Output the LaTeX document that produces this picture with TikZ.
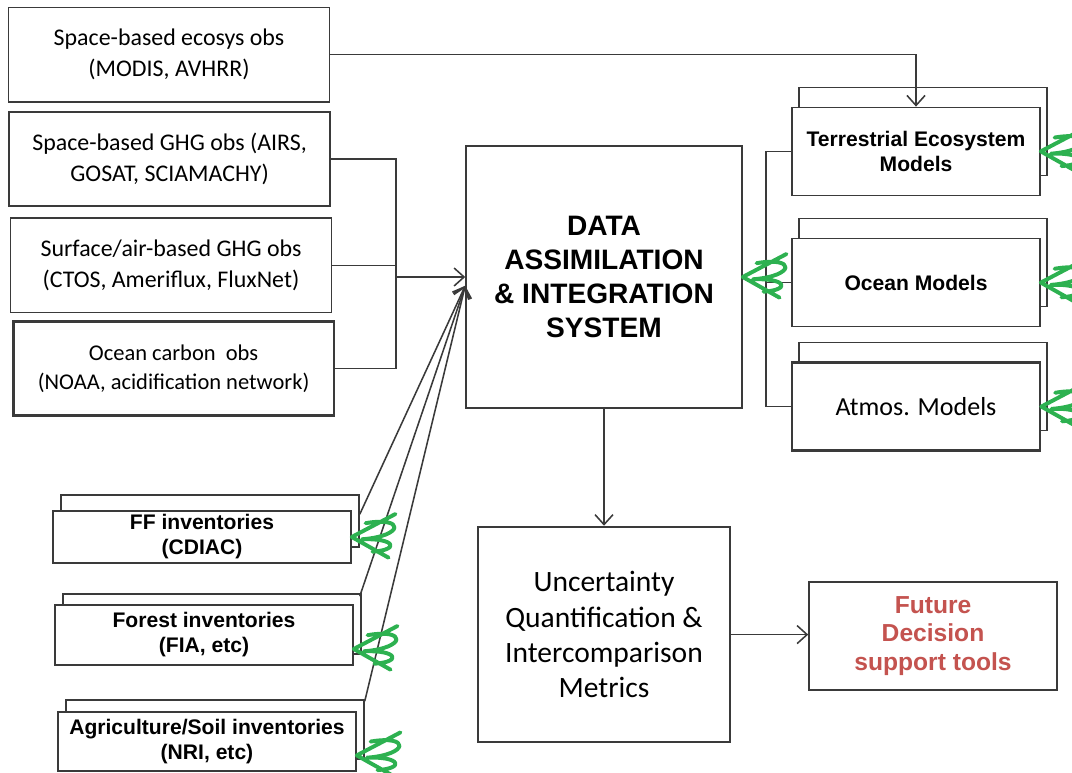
\documentclass[tikz,border=0pt]{standalone}
\usepackage{fontspec}
\setmainfont{Carlito}
\newfontfamily\arialfont{Liberation Sans}
\usetikzlibrary{positioning}
\usetikzlibrary{arrows.meta}
\usetikzlibrary{calc}
\usetikzlibrary{shadows}
\definecolor{lGray}{HTML}{3A3A3A}
\definecolor{mGreen}{HTML}{2DB150}
\definecolor{tRed}{HTML}{C4534F}

\begin{document}
\begin{tikzpicture}[
    box/.style={draw=lGray, line width=1.1pt, fill=white, align=center, inner sep=1pt},
    obs/.style={box, minimum width=8.02cm, minimum height=2.36cm, font=\fontsize{17}{22}\selectfont},
    model/.style={box, minimum width=6.2cm, minimum height=2.2cm,
      font=\arialfont\bfseries\fontsize{15}{18}\selectfont,
      copy shadow={shadow xshift=0.175cm, shadow yshift=0.5cm, line width=1.1pt}},
    inv/.style={box, minimum width=7.45cm, font=\arialfont\bfseries\fontsize{15}{17.8}\selectfont,
      copy shadow={shadow xshift=0.2cm, shadow yshift=#1}},
    heavy/.style={line width=1.9pt},
    link/.style={draw=lGray, line width=1.1pt},
    arr/.style={link, -{Straight Barb[length=2.5mm, width=4.5mm]}},
    scribble/.pic={
      \draw[mGreen, line width=2.8pt, line cap=round, line join=round, scale=1.15]
        (0.95,0.5) -- (0,0) -- (0.8,-0.45)
        (0.3,0.3) .. controls (1.15,0.45) and (1.15,0.02) .. (0.22,-0.05)
        .. controls (0.95,-0.02) and (1.05,-0.28) .. (0.45,-0.32);
    }
  ]
  \useasboundingbox (0,0) rectangle (26.8,19.325);

  % observations
  \node[obs] (ecosys) at (4.225,17.96) {Space-based ecosys obs\\(MODIS, AVHRR)};
  \node[obs] (ghg) at (4.24,15.35) {Space-based GHG obs (AIRS,\\GOSAT, SCIAMACHY)};
  \node[obs] (surface) at (4.275,12.69) {Surface/air-based GHG obs\\(CTOS, Ameriflux, FluxNet)};
  \node[obs, heavy, font=\fontsize{16}{21}\selectfont] (oceanobs) at (4.34,10.11) {Ocean carbon\ \ obs\\(NOAA, acidification network)};

  % central boxes
  \node[box, minimum width=6.9cm, minimum height=6.55cm, font=\arialfont\bfseries\fontsize{20}{24}\selectfont] (dais) at (15.1,12.4) {DATA\\ASSIMILATION\\\& INTEGRATION\\SYSTEM};
  \node[box, heavy, minimum width=6.3cm, minimum height=5.375cm, font=\fontsize{21}{25}\selectfont] (uq) at (15.1,3.46) {Uncertainty\\Quantification \&\\Intercomparison\\Metrics};
  \node[box, minimum width=6.2cm, minimum height=2.7cm, text=tRed, font=\arialfont\bfseries\fontsize{17.5}{20.5}\selectfont] (tools) at (23.325,3.425) {Future\\Decision\\support tools};

  % models
  \node[model] (terr) at (22.9,15.54) {Terrestrial Ecosystem\\Models};
  \node[model] (oceanmod) at (22.9,12.26) {Ocean Models};
  \node[model, heavy, font=\fontsize{18.5}{22}\selectfont] (atmos) at (22.9,9.16) {Atmos. Models};

  % inventories
  \node[inv=0.4cm, minimum height=1.3cm] (ff) at (5.05,5.9) {FF inventories\\(CDIAC)};
  \node[inv=0.275cm, minimum height=1.5cm] (forest) at (5.1,3.45) {Forest inventories\\(FIA, etc)};
  \node[inv=0.3cm, minimum height=1.475cm] (agri) at (5.175,0.79) {Agriculture/Soil inventories\\(NRI, etc)};

  % connectors
  \coordinate (obsjoin) at ($(dais.west)+(-1.725,0)$);
  \coordinate (invjoin) at ($(dais.west)+(0,-0.22)$);
  \coordinate (modjoin) at ($(dais.east)+(0.575,0)$);

  \draw[arr] (ecosys.east) -| (terr.north);
  \draw[link] (ghg.east) -| (obsjoin |- oceanobs.east) -- (oceanobs.east);
  \draw[link] (surface.east) -- (surface.east -| obsjoin);
  \draw[arr] (obsjoin) -- (dais.west);

  \draw[arr] ($(ff.north east)+(0.2,-0.1)$) -- (invjoin);
  \draw[arr] ($(forest.north east)+(0.15,0.2)$) -- (invjoin);
  \draw[arr] ($(agri.north east)+(0.2,0.25)$) -- (invjoin);

  \draw[link] (terr.west) -| (modjoin |- atmos.west) -- (atmos.west);
  \draw[link] (oceanmod.west) -- (oceanmod.west -| modjoin);

  \draw[arr] (dais.south) -- (uq.north);
  \draw[arr] (uq.east) -- (uq.east -| tools.west);

  % green marks
  \pic at (dais.east) {scribble};
  \pic at (terr.east) {scribble};
  \pic at (oceanmod.east) {scribble};
  \pic at (atmos.east) {scribble};
  \pic at (ff.east) {scribble};
  \pic at ($(forest.east)+(0,-0.35)$) {scribble};
  \pic at ($(agri.east)+(0,-0.35)$) {scribble};
\end{tikzpicture}
\end{document}
